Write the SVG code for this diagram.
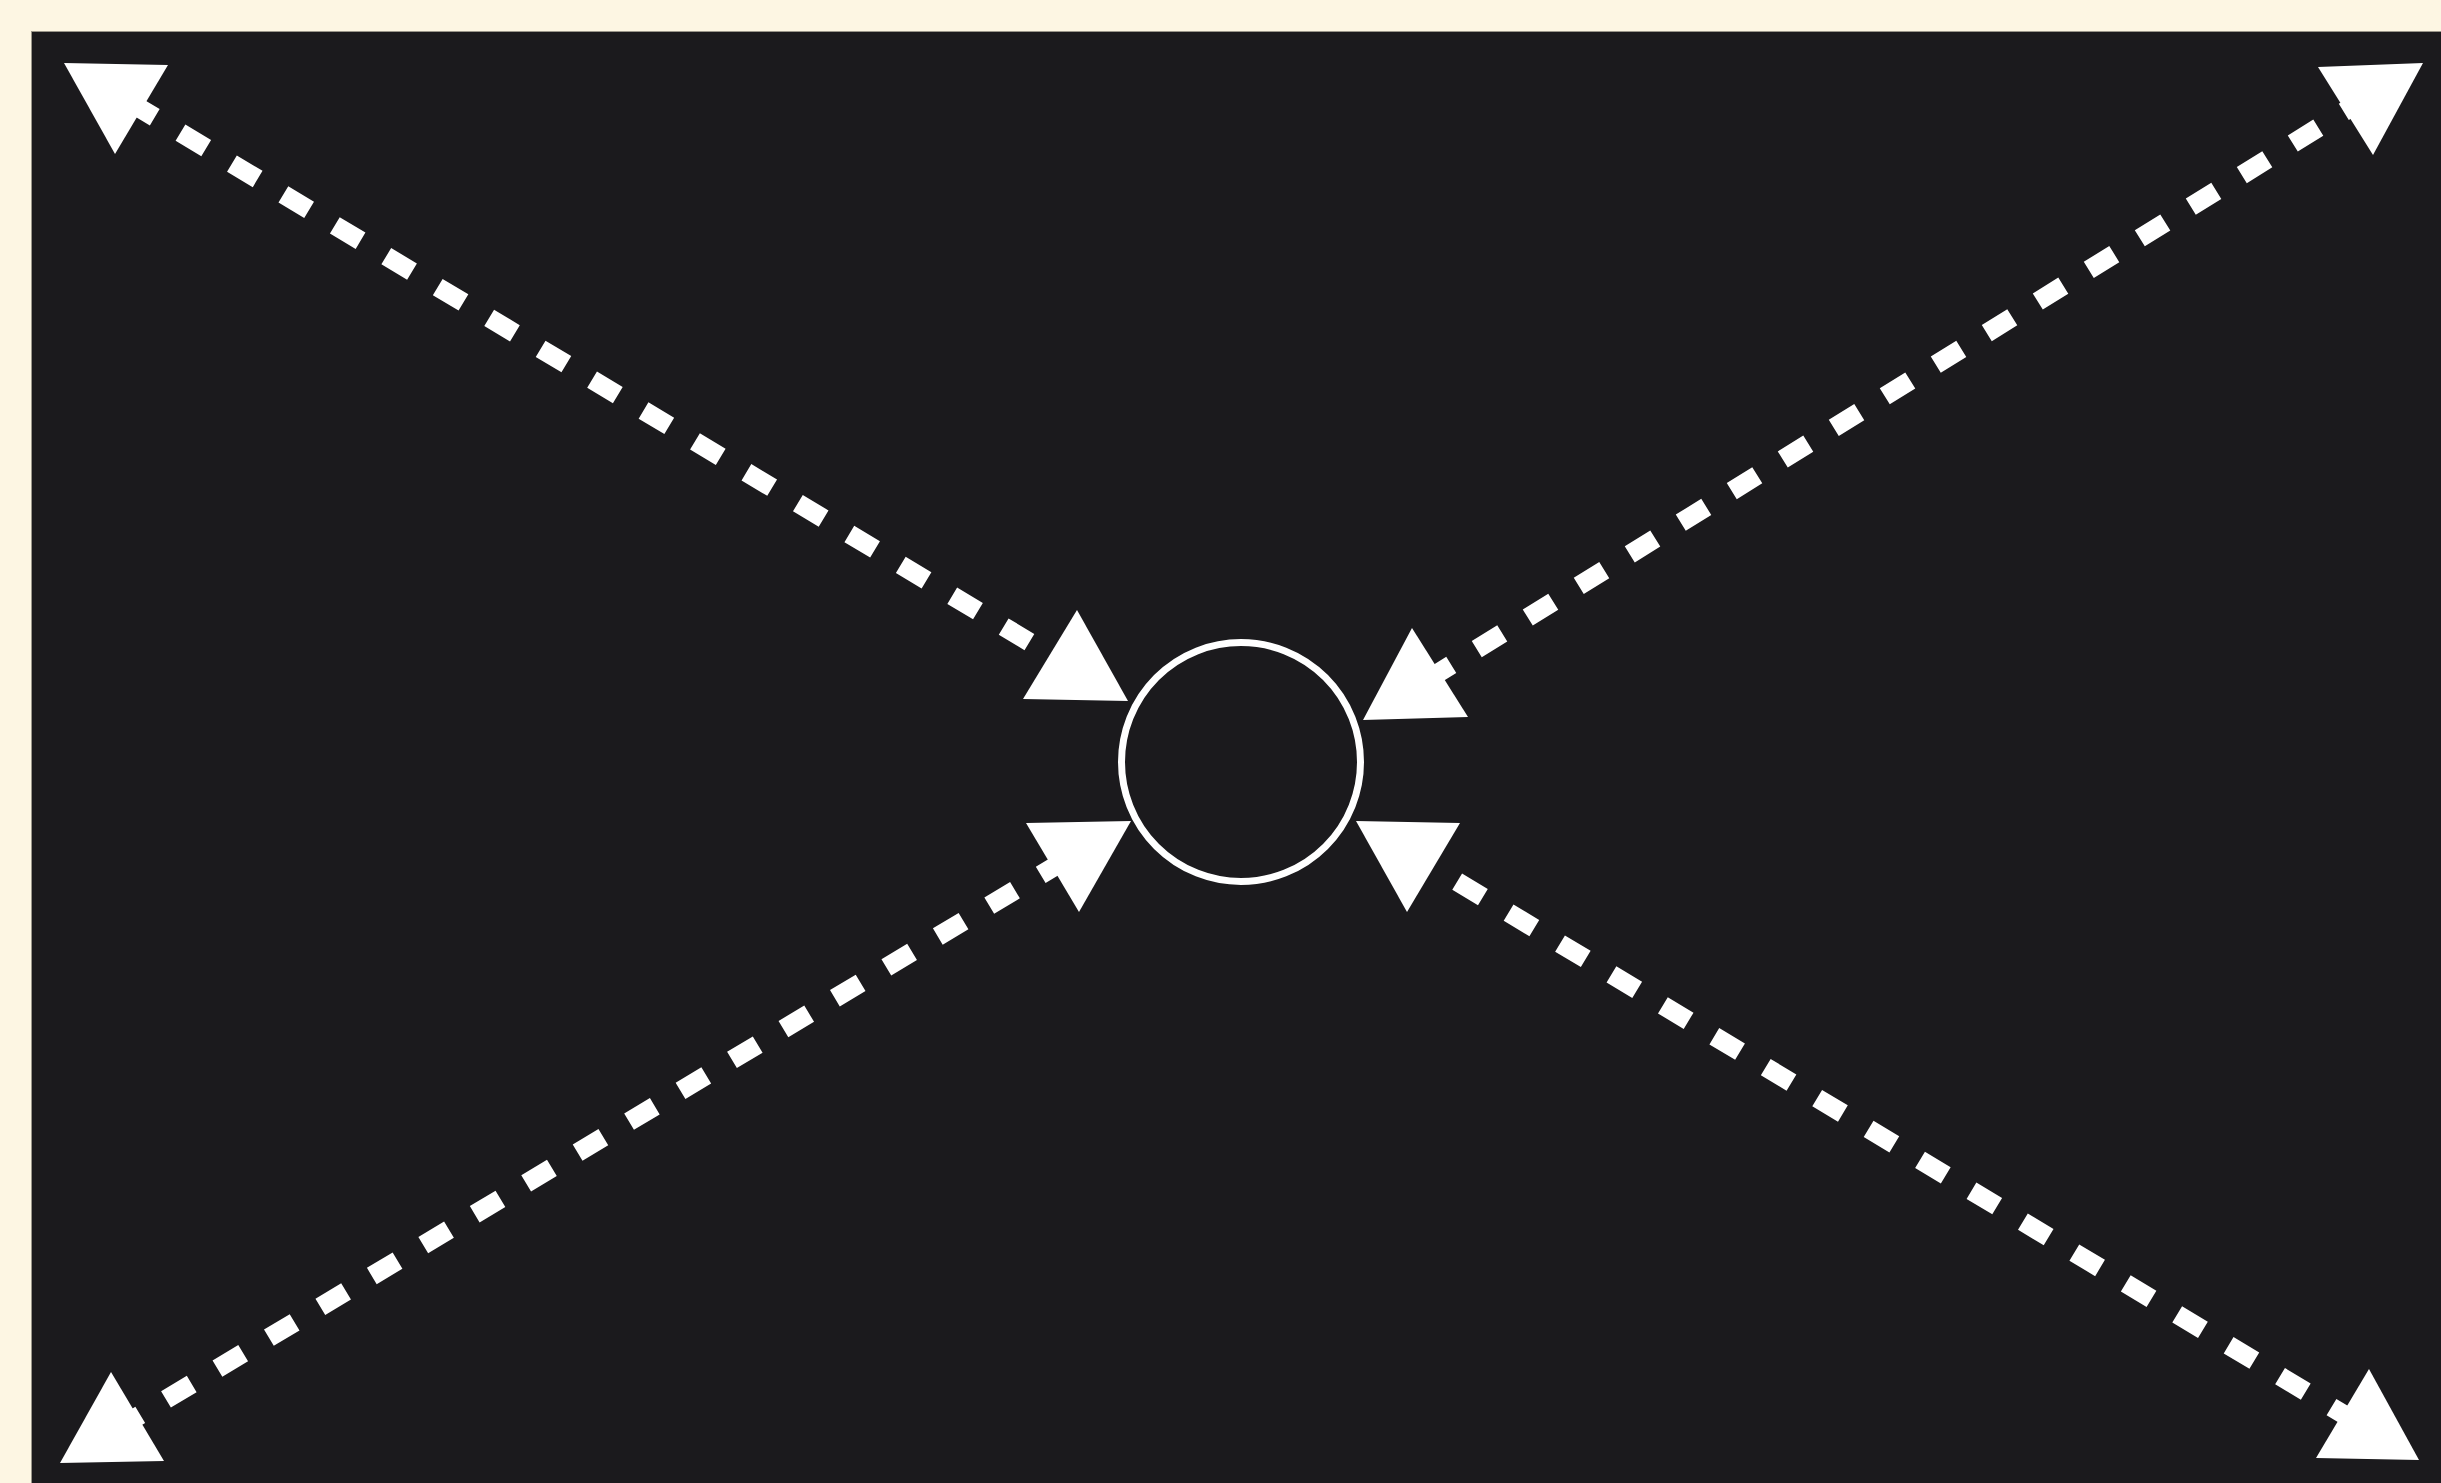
<svg xmlns="http://www.w3.org/2000/svg" width="2441" height="1483" viewBox="0 0 2441 1483">
<style>
.bg{fill:#fdf6e3}
.panel{fill:#1b1a1d;stroke:#9a968a;stroke-width:1}
.edge{fill:none;stroke:#ffffff;stroke-width:19;stroke-dasharray:30 30}
.head{fill:#ffffff}
.node{fill:#1b1a1d;stroke:#ffffff;stroke-width:7}
</style>
<rect class="bg" x="0" y="0" width="2441" height="1483"/>
<rect class="panel" x="31.5" y="31.5" width="2420" height="1460"/>
<g id="connectors">
<line class="edge" x1="116" y1="94" x2="1076" y2="670" stroke-dashoffset="44.8"/>
<line class="edge" x1="2371" y1="95" x2="1414" y2="688" stroke-dashoffset="58"/>
<line class="edge" x1="111.7" y1="1432" x2="1078.7" y2="852" stroke-dashoffset="56.7"/>
<line class="edge" x1="2368" y1="1429" x2="1407.7" y2="852" stroke-dashoffset="47.4"/>
<polygon class="head" points="64,63 168,65 115,154"/>
<polygon class="head" points="1077,610 1023,699 1128,701"/>
<polygon class="head" points="2318,67 2423,63 2373,155"/>
<polygon class="head" points="1412,628 1363,720 1468,717"/>
<polygon class="head" points="111,1372 60,1463 164,1461"/>
<polygon class="head" points="1026,823 1131,821 1079,912"/>
<polygon class="head" points="2369,1369 2316,1458 2419,1460"/>
<polygon class="head" points="1356,821 1460,823 1407,912"/>
</g>
<g id="node-center">
<circle class="node" cx="1241" cy="762" r="119.5"/>
</g>
</svg>
